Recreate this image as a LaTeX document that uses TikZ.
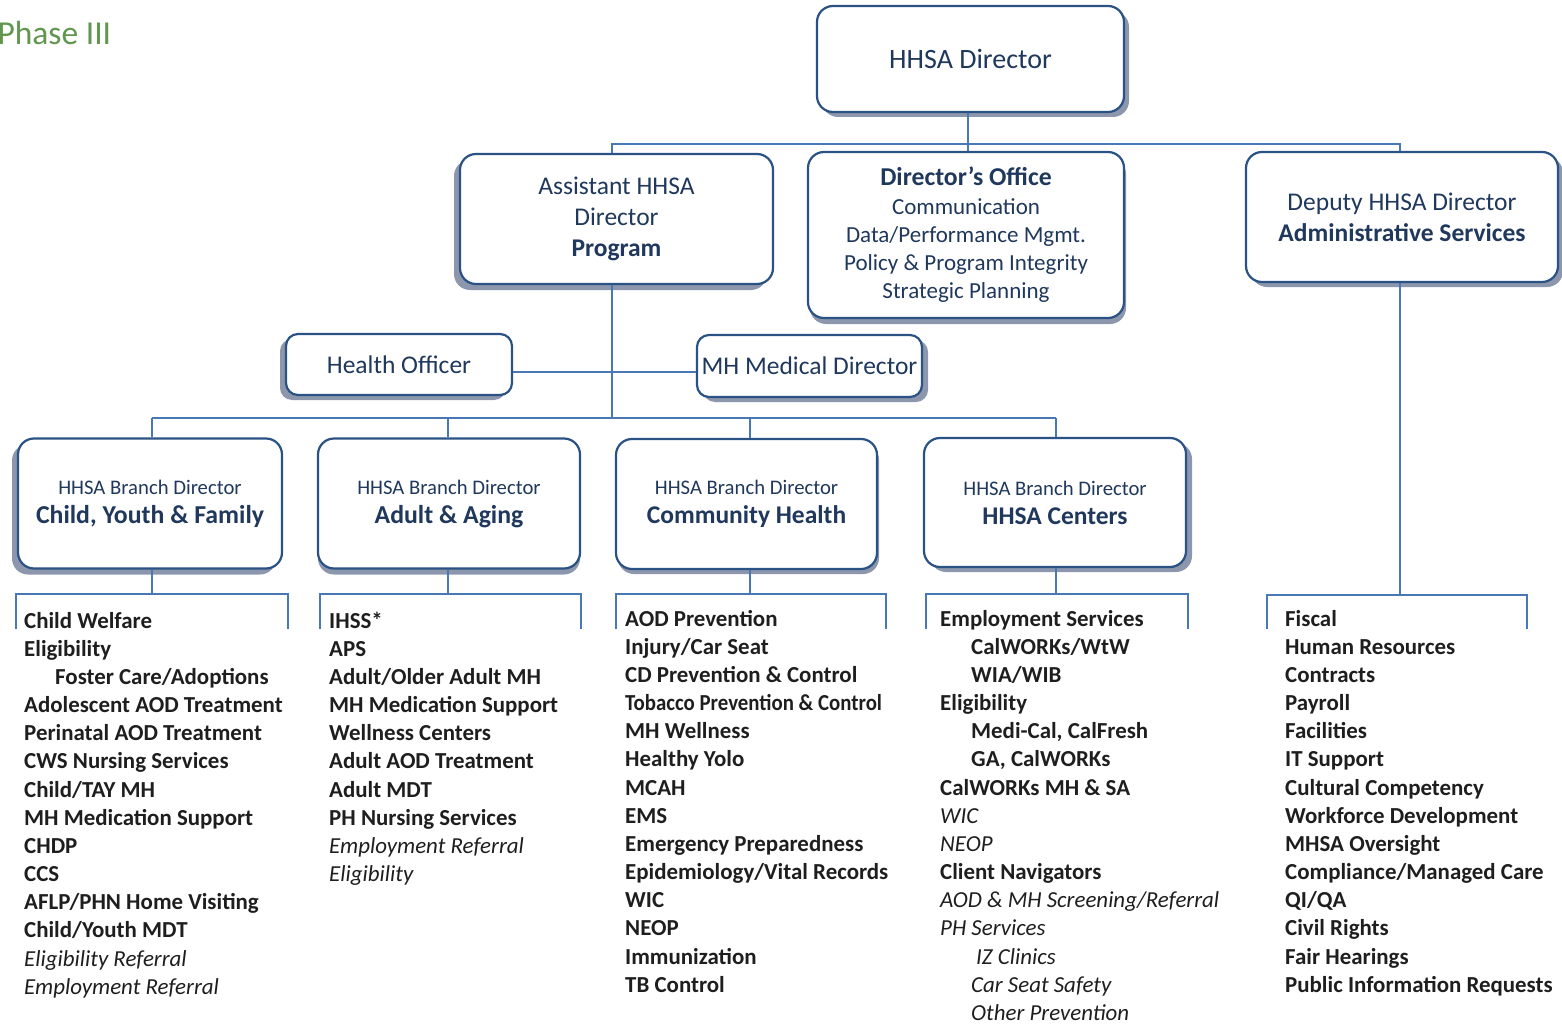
\documentclass[tikz,border=0pt]{standalone}
\usepackage{fontspec}
\setmainfont{Carlito}
\usetikzlibrary{shadows}
\definecolor{boxtxt}{RGB}{31,56,92}
\definecolor{boxline}{RGB}{42,82,132}
\definecolor{connc}{RGB}{72,120,182}
\definecolor{shadowc}{RGB}{140,150,172}
\definecolor{listtxt}{RGB}{30,30,30}
\definecolor{phasec}{RGB}{96,150,78}
\tikzset{
  orgbox/.style={draw=boxline, line width=2.2pt, rounded corners=16pt, fill=white,
    inner sep=0pt, align=center, text=boxtxt, font=\fontsize{25.5}{31}\selectfont},
  shd/.style 2 args={drop shadow={shadow xshift=#1pt, shadow yshift=#2pt, fill=shadowc, opacity=1}},
  conn/.style={draw=connc, line width=1.4pt},
  listcol/.style={inner sep=0pt, anchor=north west, align=left, text=listtxt,
    font=\bfseries\fontsize{22.9}{28.15}\selectfont},
}
\newcommand{\ind}{\hspace*{31pt}}
\newcommand{\itl}[1]{{\mdseries\itshape #1}}
\begin{document}
\begin{tikzpicture}[x=1pt,y=-1pt]
\useasboundingbox (0,0) rectangle (1562,1024);

\node[anchor=west, text=phasec, font=\fontsize{33.5}{38}\selectfont] (phase) at (-6,33) {Phase III};

% top boxes
\node[orgbox, shd={5}{-5}, minimum width=307pt, minimum height=106pt, font=\fontsize{28}{32}\selectfont] (dir) at (970.5,59) {HHSA Director};
\node[orgbox, shd={-6}{-6}, minimum width=313pt, minimum height=130pt] (asst) at (616.5,219)
  {Assistant HHSA\\Director\\{\bfseries Program}};
\node[orgbox, shd={2}{-6}, minimum width=316pt, minimum height=166pt, font=\fontsize{23}{28.2}\selectfont] (doff) at (966,235)
  {{\bfseries\fontsize{25.7}{28.2}\selectfont Director's Office}\\Communication\\Data/Performance Mgmt.\\Policy \& Program Integrity\\Strategic Planning};
\node[orgbox, shd={5}{-5}, minimum width=312pt, minimum height=130pt] (dep) at (1402,217)
  {Deputy HHSA Director\\{\bfseries Administrative Services}};

\node[orgbox, shd={-6}{-5}, rounded corners=12pt, minimum width=226pt, minimum height=61pt] (ho) at (399,364.5) {Health Officer};
\node[orgbox, shd={6}{-5}, rounded corners=12pt, minimum width=225pt, minimum height=62pt] (mh) at (809.5,366) {MH Medical Director};

% branch boxes
\tikzset{branch/.style={orgbox, minimum width=262pt, minimum height=130pt, font=\fontsize{20.7}{29}\selectfont}}
\node[branch, shd={-6}{-6}, minimum width=264pt] (cyf) at (150,503.5)
  {HHSA Branch Director\\{\bfseries\fontsize{25.8}{29}\selectfont Child, Youth \& Family}};
\node[branch, shd={0}{-6}] (aa) at (449,503.5)
  {HHSA Branch Director\\{\bfseries\fontsize{25.8}{29}\selectfont Adult \& Aging}};
\node[branch, shd={2}{-5}, minimum width=261pt] (ch) at (746.5,504)
  {HHSA Branch Director\\{\bfseries\fontsize{25.5}{29}\selectfont Community Health}};
\node[branch, shd={6}{-5}, minimum height=129pt] (hc) at (1055,502.5)
  {HHSA Branch Director\\{\bfseries\fontsize{25.5}{29}\selectfont HHSA Centers}};

% junction coordinates
\coordinate (jtop) at (968,144);
\coordinate (jasst) at (612,144);
\coordinate (jdep) at (1400,144);
\coordinate (jmid) at (612,372);
\coordinate (jbus) at (612,418);
\coordinate (bcyf) at (152,418);
\coordinate (baa) at (448,418);
\coordinate (bch) at (750,418);
\coordinate (bhc) at (1056,418);

\draw[conn] (jtop |- dir.south) -- (jtop);
\draw[conn] (jasst |- asst.north) -- (jasst) -- (jdep) -- (jdep |- dep.north);
\draw[conn] (jtop) -- (jtop |- doff.north);
\draw[conn] (jasst |- asst.south) -- (jbus);
\draw[conn] (ho.east |- jmid) -- (mh.west |- jmid);
\draw[conn] (bcyf) -- (bhc);
\draw[conn] (bcyf) -- (bcyf |- cyf.north);
\draw[conn] (baa) -- (baa |- aa.north);
\draw[conn] (bch) -- (bch |- ch.north);
\draw[conn] (bhc) -- (bhc |- hc.north);

% brackets under branch boxes
\coordinate (kcyf) at (152,594);
\coordinate (kaa) at (448,594);
\coordinate (kch) at (750,594);
\coordinate (khc) at (1056,594);
\coordinate (kdep) at (1400,595);
\draw[conn] (kcyf |- cyf.south) -- (kcyf);
\draw[conn] (kaa |- aa.south) -- (kaa);
\draw[conn] (kch |- ch.south) -- (kch);
\draw[conn] (khc |- hc.south) -- (khc);
\draw[conn] (kdep |- dep.south) -- (kdep);
\draw[conn] (16,629) -- (16,594) -- (288,594) -- (288,629);
\draw[conn] (320,629) -- (320,594) -- (581,594) -- (581,629);
\draw[conn] (616,629) -- (616,594) -- (886,594) -- (886,629);
\draw[conn] (926,629) -- (926,594) -- (1188,594) -- (1188,629);
\draw[conn] (1267,629) -- (1267,595) -- (1527,595) -- (1527,629);

% lists
\node[listcol] (lcyf) at (24,610) {\rule{0pt}{18pt}Child Welfare\\Eligibility\\\ind Foster Care/Adoptions\\Adolescent AOD Treatment\\Perinatal AOD Treatment\\CWS Nursing Services\\Child/TAY MH\\MH Medication Support\\CHDP\\CCS\\AFLP/PHN Home Visiting\\Child/Youth MDT\\\itl{Eligibility Referral}\\\itl{Employment Referral}};
\node[listcol] (laa) at (329,610) {\rule{0pt}{18pt}IHSS*\\APS\\Adult/Older Adult MH\\MH Medication Support\\Wellness Centers\\Adult AOD Treatment\\Adult MDT\\PH Nursing Services\\\itl{Employment Referral}\\\itl{Eligibility}};
\node[listcol] (lch) at (625,608) {\rule{0pt}{18pt}AOD Prevention\\Injury/Car Seat\\CD Prevention \& Control\\\scalebox{0.91}[1]{Tobacco Prevention \& Control}\\MH Wellness\\Healthy Yolo\\MCAH\\EMS\\Emergency Preparedness\\Epidemiology/Vital Records\\WIC\\NEOP\\Immunization\\TB Control};
\node[listcol] (lhc) at (940,608) {\rule{0pt}{18pt}Employment Services\\\ind CalWORKs/WtW\\\ind WIA/WIB\\Eligibility\\\ind Medi-Cal, CalFresh\\\ind GA, CalWORKs\\CalWORKs MH \& SA\\\itl{WIC}\\\itl{NEOP}\\Client Navigators\\\itl{AOD \& MH Screening/Referral}\\\itl{PH Services}\\\itl{\hspace*{36pt}IZ Clinics}\\\itl{\ind Car Seat Safety}\\\itl{\ind Other Prevention}};
\node[listcol] (ldep) at (1285,608) {\rule{0pt}{18pt}Fiscal\\Human Resources\\Contracts\\Payroll\\Facilities\\IT Support\\Cultural Competency\\Workforce Development\\MHSA Oversight\\Compliance/Managed Care\\QI/QA\\Civil Rights\\Fair Hearings\\Public Information Requests};
\end{tikzpicture}
\end{document}
